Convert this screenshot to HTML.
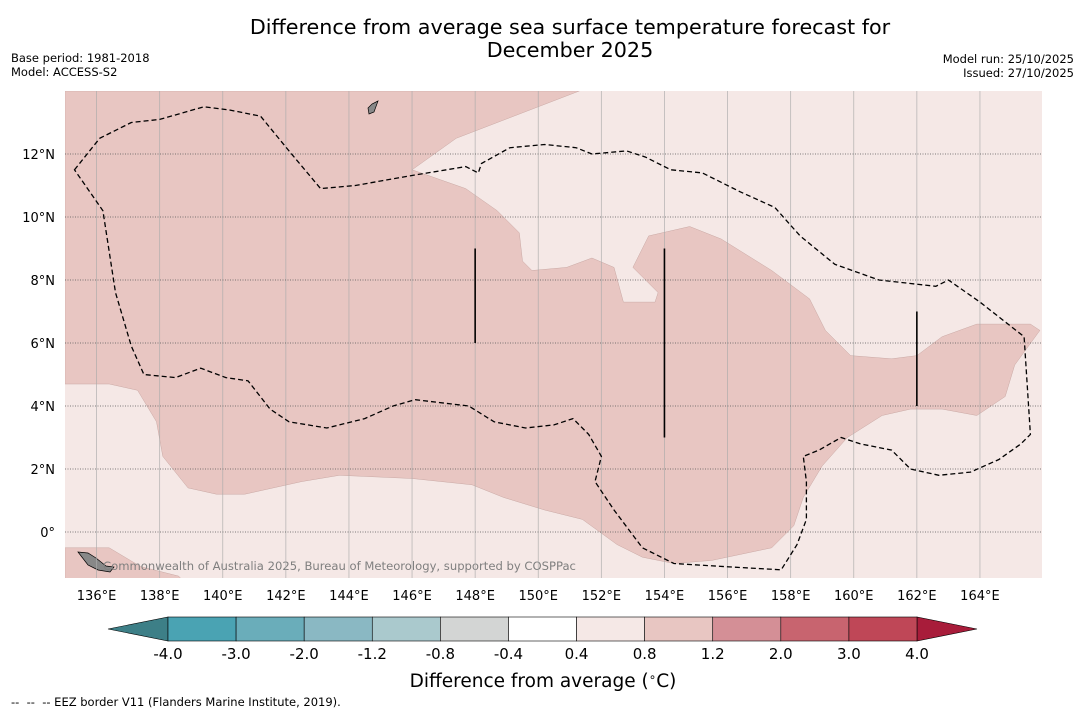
<!DOCTYPE html>
<html><head><meta charset="utf-8"><style>
body{margin:0;background:#fff;width:1085px;height:713px;overflow:hidden;font-family:"Liberation Sans","DejaVu Sans",sans-serif}
</style></head><body>
<svg id="s" width="1085" height="713" xmlns="http://www.w3.org/2000/svg" font-family="DejaVu Sans, Liberation Sans, sans-serif">
<text x="570" y="34" font-size="20.7" text-anchor="middle">Difference from average sea surface temperature forecast for</text>
<text x="570" y="57" font-size="20.7" text-anchor="middle">December 2025</text>
<text x="11" y="62" font-size="11.5">Base period: 1981-2018</text>
<text x="11" y="76" font-size="11.5">Model: ACCESS-S2</text>
<text x="1074" y="63" font-size="11.5" text-anchor="end">Model run: 25/10/2025</text>
<text x="1074" y="77" font-size="11.5" text-anchor="end">Issued: 27/10/2025</text>
<defs><clipPath id="mc"><rect x="65" y="91" width="977" height="487"/></clipPath></defs>
<g id="map" clip-path="url(#mc)"></g>
<g id="axes"></g>
<g id="cbar"></g>
<text x="543" y="687" font-size="18.5" text-anchor="middle">Difference from average (<tspan font-size="12" dy="-6">∘</tspan><tspan dy="6">C)</tspan></text>
<text x="11" y="706" font-size="11.5">-- &#160;-- &#160;-- EEZ border V11 (Flanders Marine Institute, 2019).</text>
</svg>
<script>
const lonTicks=[136,138,140,142,144,146,148,150,152,154,156,158,160,162,164];
const latTicks=[0,2,4,6,8,10,12];
const cbarBounds=["-4.0","-3.0","-2.0","-1.2","-0.8","-0.4","0.4","0.8","1.2","2.0","3.0","4.0"];
const cbarColors=["#4aa3b3","#6aadba","#8ab8c3","#aac9cd","#d3d5d4","#ffffff","#f5e8e6","#e8c6c2","#d48f96","#c8646f","#bf4757"];
// warm anomaly (0.8-1.2) region boundary, lon/lat
const warmLon=[135,151.3,147.4,146,147.7,148.7,149.4,149.5,149.8,150.9,151.7,152.4,152.7,153.7,153.8,153.0,153.5,154.8,155.8,157.4,158.6,159.1,159.9,161.2,162.0,162.8,163.9,165.6,165.9,165.1,164.8,163.9,162.8,161.8,160.9,159.8,159.0,158.4,158.1,157.4,155.5,154.3,153.3,152.5,151.4,150.2,148.9,147.9,146.0,143.7,142.5,140.7,139.8,138.9,138.1,137.9,137.3,136.4,135];
const warmLat=[14,14,12.5,11.5,10.9,10.2,9.5,8.6,8.3,8.4,8.7,8.4,7.3,7.3,7.6,8.4,9.4,9.7,9.3,8.3,7.4,6.4,5.6,5.5,5.6,6.2,6.6,6.6,6.4,5.3,4.3,3.7,3.9,3.9,3.7,3.0,2.1,1.1,0.2,-0.5,-0.9,-1.0,-0.8,-0.4,0.4,0.7,1.1,1.5,1.7,1.8,1.6,1.2,1.2,1.4,2.4,3.5,4.5,4.7,4.7];
const warm2Lon=[135,136.4,137.4,138.6,138.7,135];
const warm2Lat=[-0.5,-0.5,-1.1,-1.4,-1.5,-1.5];
// EEZ boundary
const eezLon=[135.3,136.1,137.1,138.0,139.4,140.2,141.2,142.1,143.1,144.2,145.9,147.7,148.1,148.2,149.1,150.2,151.2,151.7,152.8,153.4,154.2,155.2,156.4,157.5,158.3,159.4,160.8,162.6,163.0,164.0,165.4,165.6,165.3,164.6,163.7,162.7,161.8,161.2,160.2,159.6,158.9,158.4,158.5,158.5,158.2,157.7,155.9,154.3,153.3,152.4,151.8,152.0,151.6,151.1,150.5,149.6,148.6,147.8,146.1,145.4,144.5,143.3,142.1,141.5,140.8,140.1,139.3,138.5,137.5,137.1,136.6,136.4,136.2,135.3];
const eezLat=[11.5,12.5,13.0,13.1,13.5,13.4,13.2,12.1,10.9,11.0,11.3,11.6,11.4,11.7,12.2,12.3,12.2,12.0,12.1,11.9,11.5,11.4,10.8,10.3,9.4,8.5,8.0,7.8,8.0,7.3,6.2,3.1,2.8,2.3,1.9,1.8,2.0,2.6,2.8,3.0,2.6,2.4,1.6,0.4,-0.4,-1.2,-1.1,-1.0,-0.5,0.7,1.6,2.4,3.1,3.6,3.4,3.3,3.5,4.0,4.2,4.0,3.6,3.3,3.5,3.9,4.8,4.9,5.2,4.9,5.0,5.9,7.6,8.9,10.2,11.5];
// vertical line segments [lon, lat0, lat1]
const segLon=[148,154,162], segLat0=[6,3,4], segLat1=[9,9,7];
const X=lon=>65+(lon-135)*31.55, Y=lat=>91+(14-lat)*31.5;
const NS="http://www.w3.org/2000/svg";
function mk(p,t,a){const e=document.createElementNS(NS,t);for(const k in a)e.setAttribute(k,a[k]);p.appendChild(e);return e;}
const map=document.getElementById('map'),axes=document.getElementById('axes'),cb=document.getElementById('cbar');
let bg=mk(map,'rect',{x:65,y:91,width:977,height:487,fill:'#f5e8e6'});


function poly(lons,lats){return lons.map((l,i)=>X(l).toFixed(1)+','+Y(lats[i]).toFixed(1)).join(' ');}
let w1=mk(map,'polygon',{points:poly(warmLon,warmLat),fill:'#e8c6c2',stroke:'#c9a8a4','stroke-width':0.5});


let w2=mk(map,'polygon',{points:poly(warm2Lon,warm2Lat),fill:'#e8c6c2',stroke:'#c9a8a4','stroke-width':0.5});


let land=mk(map,'path',{d:'M78,552 L88,553 L96,558 L106,566 L114,567 L110,572 L98,570 L88,565 Z',fill:'#888',stroke:'#000','stroke-width':0.7});


let land2=mk(map,'path',{d:'M368,108 L372,104 L378,101 L374,112 L369,114 Z',fill:'#888',stroke:'#000','stroke-width':0.7});


let wm=mk(map,'text',{x:103,y:570,'font-size':11.6,fill:'#7f7f7f'});wm.textContent='Commonwealth of Australia 2025, Bureau of Meteorology, supported by COSPPac';


lonTicks.forEach(l=>{let g=mk(map,'line',{x1:X(l),x2:X(l),y1:91,y2:578,stroke:'#aaa','stroke-width':0.8,'stroke-opacity':0.8});


let t=mk(axes,'text',{x:X(l),y:600,'font-size':13,'text-anchor':'middle'});t.textContent=l+'°E';

});
latTicks.forEach(l=>{let g=mk(map,'line',{x1:65,x2:1042,y1:Y(l),y2:Y(l),stroke:'#555','stroke-width':0.8,'stroke-dasharray':'1,1.5'});


let t=mk(axes,'text',{x:55,y:Y(l)+5,'font-size':13,'text-anchor':'end'});t.textContent=l===0?'0°':l+'°N';

});
let eez=mk(map,'polygon',{points:poly(eezLon,eezLat),fill:'none',stroke:'#000','stroke-width':1.3,'stroke-dasharray':'5,3'});


segLon.forEach((l,i)=>{let s=mk(map,'line',{x1:X(l),x2:X(l),y1:Y(segLat1[i]),y2:Y(segLat0[i]),stroke:'#000','stroke-width':1.6});

});
// colorbar
const cx0=168,cx1=917,cy=617,ch=24,bw=(cx1-cx0)/cbarColors.length;
let lt=mk(cb,'polygon',{points:`${cx0},${cy} ${cx0},${cy+ch} 108,${cy+ch/2}`,fill:'#3d7f87',stroke:'#000','stroke-width':0.6});


let rt=mk(cb,'polygon',{points:`${cx1},${cy} ${cx1},${cy+ch} 977,${cy+ch/2}`,fill:'#a81c3a',stroke:'#000','stroke-width':0.6});


cbarColors.forEach((c,i)=>{let r=mk(cb,'rect',{x:cx0+i*bw,y:cy,width:bw,height:ch,fill:c,stroke:'#000','stroke-width':0.6});

});
cbarBounds.forEach((b,i)=>{let t=mk(cb,'text',{x:cx0+i*bw,y:659,'font-size':15,'text-anchor':'middle'});t.textContent=b;

});
</script>
</body></html>
